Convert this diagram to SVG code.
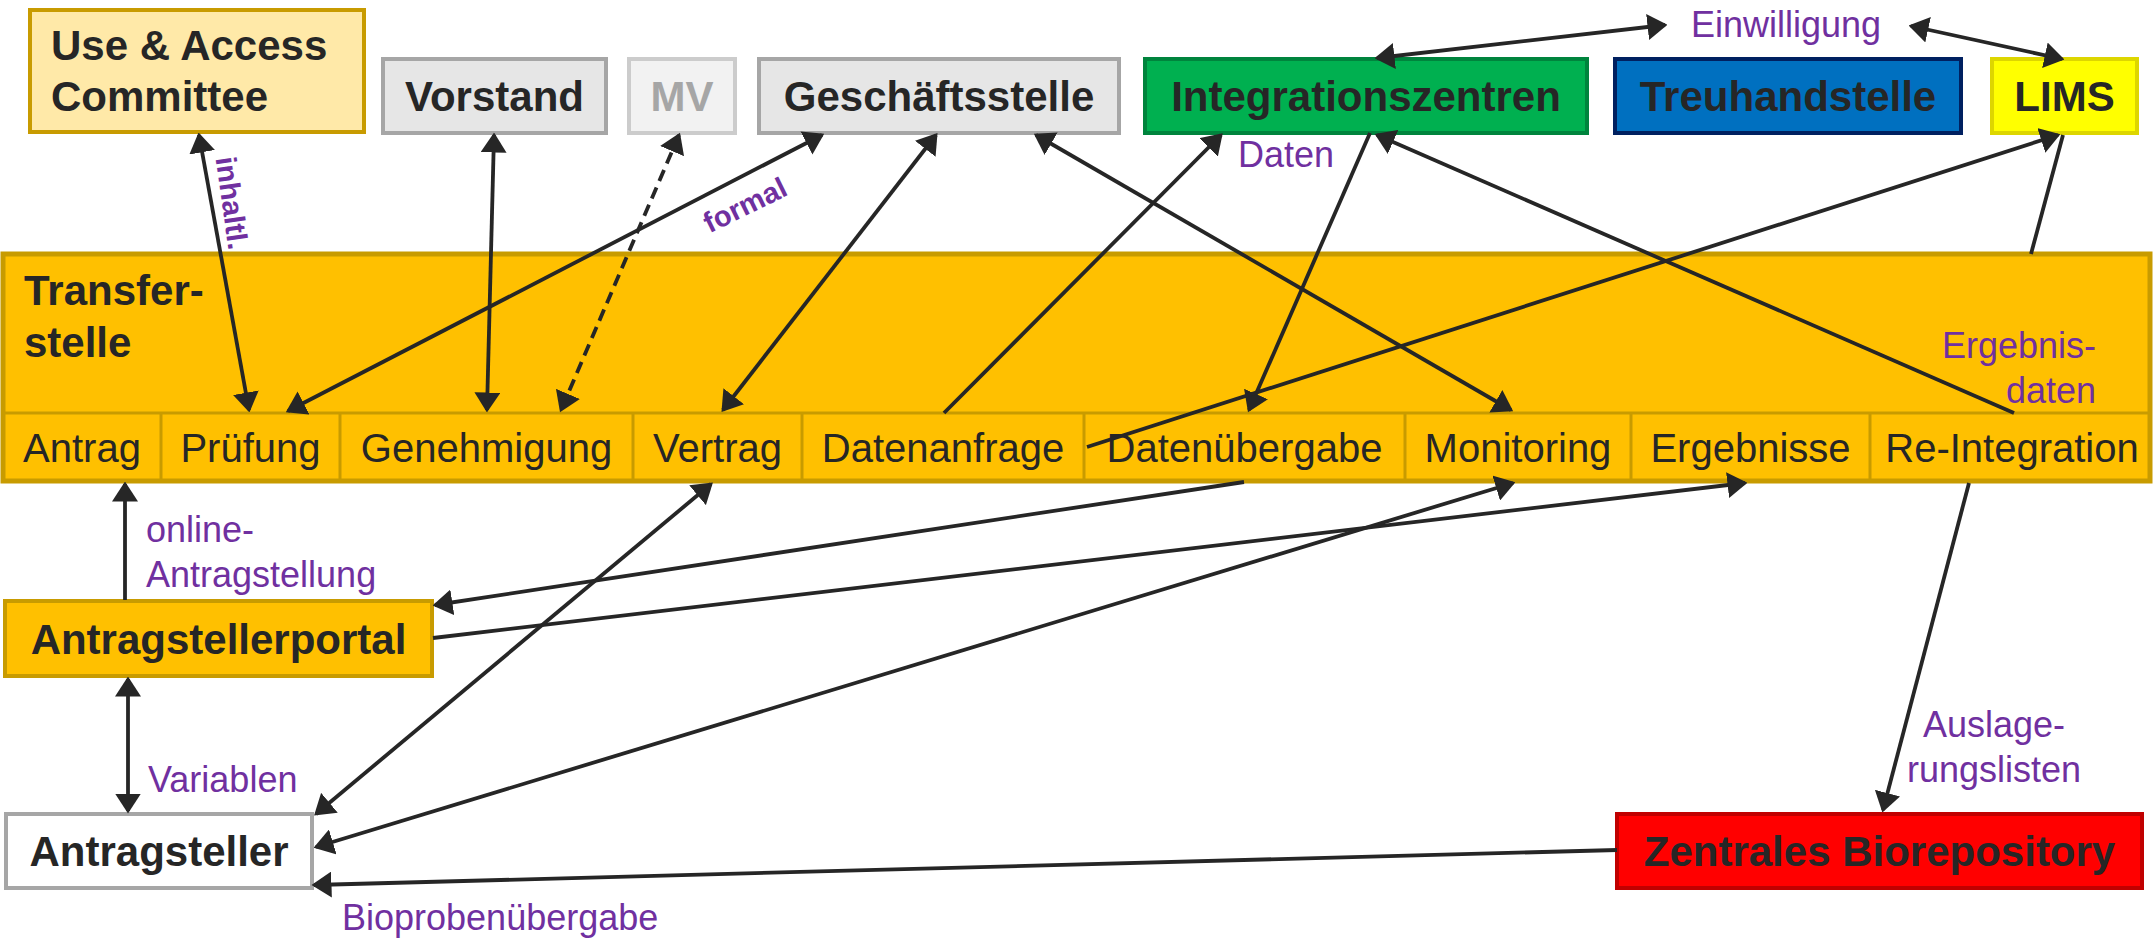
<svg xmlns="http://www.w3.org/2000/svg" width="2153" height="940" viewBox="0 0 2153 940">
<style>
.t{font-family:"Liberation Sans",Arial,sans-serif;fill:#262626}
.b{font-weight:bold;font-size:42px}
.c{font-size:40px}
.p{font-family:"Liberation Sans",Arial,sans-serif;fill:#7030A0;font-size:36px}
.pb{font-family:"Liberation Sans",Arial,sans-serif;fill:#7030A0;font-size:29px;font-weight:bold}
.ln{stroke:#262626;stroke-width:3.8;fill:none}
.cell{fill:none;stroke:#C89B00;stroke-width:3}
</style>
<defs>
<marker id="ah" viewBox="0 0 20 26" refX="17.5" refY="13" markerWidth="20" markerHeight="26" orient="auto-start-reverse" markerUnits="userSpaceOnUse"><path d="M0,0 L20,13 L0,26 z" fill="#262626"/></marker>
</defs>
<rect width="2153" height="940" fill="#ffffff"/>

<g id="committee">
<rect x="30" y="10" width="334" height="122" fill="#FFE9A8" stroke="#C89B00" stroke-width="4"/>
<text class="t b" x="51" y="60">Use &amp; Access</text>
<text class="t b" x="51" y="111">Committee</text>
</g>
<g id="vorstand">
<rect x="383" y="59" width="223" height="74" fill="#E6E6E6" stroke="#A6A6A6" stroke-width="4"/>
<text class="t b" x="494.5" y="111" text-anchor="middle">Vorstand</text>
</g>
<g id="mv">
<rect x="629" y="59" width="106" height="74" fill="#F2F2F2" stroke="#CCCCCC" stroke-width="4"/>
<text class="t b" x="682" y="111" text-anchor="middle" style="fill:#A6A6A6">MV</text>
</g>
<g id="geschaeftsstelle">
<rect x="759" y="59" width="360" height="74" fill="#E6E6E6" stroke="#A6A6A6" stroke-width="4"/>
<text class="t b" x="939" y="111" text-anchor="middle">Geschäftsstelle</text>
</g>
<g id="integrationszentren">
<rect x="1145" y="59" width="442" height="74" fill="#00B050" stroke="#00843D" stroke-width="4"/>
<text class="t b" x="1366" y="111" text-anchor="middle">Integrationszentren</text>
</g>
<g id="treuhandstelle">
<rect x="1615" y="59" width="346" height="74" fill="#0070C0" stroke="#002060" stroke-width="4"/>
<text class="t b" x="1788" y="111" text-anchor="middle">Treuhandstelle</text>
</g>
<g id="lims">
<rect x="1992" y="59" width="145" height="74" fill="#FFFF00" stroke="#DDD600" stroke-width="4"/>
<text class="t b" x="2064.5" y="111" text-anchor="middle">LIMS</text>
</g>

<g id="transferstelle">
<rect x="3" y="254" width="2147" height="227" fill="#FFC000" stroke="#C89B00" stroke-width="5"/>
<text class="t b" x="24" y="305">Transfer-</text>
<text class="t b" x="24" y="357">stelle</text>
<line class="cell" x1="3" y1="413" x2="2150" y2="413"/>
<line class="cell" x1="161" y1="413" x2="161" y2="481"/>
<line class="cell" x1="340" y1="413" x2="340" y2="481"/>
<line class="cell" x1="633" y1="413" x2="633" y2="481"/>
<line class="cell" x1="802" y1="413" x2="802" y2="481"/>
<line class="cell" x1="1084" y1="413" x2="1084" y2="481"/>
<line class="cell" x1="1405" y1="413" x2="1405" y2="481"/>
<line class="cell" x1="1631" y1="413" x2="1631" y2="481"/>
<line class="cell" x1="1870" y1="413" x2="1870" y2="481"/>
<text class="t c" x="82" y="462" text-anchor="middle">Antrag</text>
<text class="t c" x="250.5" y="462" text-anchor="middle">Prüfung</text>
<text class="t c" x="486.5" y="462" text-anchor="middle">Genehmigung</text>
<text class="t c" x="717.5" y="462" text-anchor="middle">Vertrag</text>
<text class="t c" x="943" y="462" text-anchor="middle">Datenanfrage</text>
<text class="t c" x="1244.5" y="462" text-anchor="middle">Datenübergabe</text>
<text class="t c" x="1518" y="462" text-anchor="middle">Monitoring</text>
<text class="t c" x="1750.5" y="462" text-anchor="middle">Ergebnisse</text>
<text class="t c" x="2012" y="462" text-anchor="middle">Re-Integration</text>
</g>

<g id="antragstellerportal">
<rect x="5" y="601" width="427" height="75" fill="#FFC000" stroke="#C89B00" stroke-width="4"/>
<text class="t b" x="218.5" y="654" text-anchor="middle">Antragstellerportal</text>
</g>
<g id="antragsteller">
<rect x="6" y="814" width="306" height="74" fill="#FFFFFF" stroke="#A6A6A6" stroke-width="4"/>
<text class="t b" x="159" y="866" text-anchor="middle">Antragsteller</text>
</g>
<g id="biorepository">
<rect x="1617" y="814" width="525" height="74" fill="#FF0000" stroke="#C00000" stroke-width="4"/>
<text class="t b" x="1879.5" y="866" text-anchor="middle">Zentrales Biorepository</text>
</g>

<g id="connectors">
<line class="ln" x1="199" y1="135" x2="249" y2="410" marker-start="url(#ah)" marker-end="url(#ah)"/>
<line class="ln" x1="494" y1="135" x2="487" y2="410" marker-start="url(#ah)" marker-end="url(#ah)"/>
<line class="ln" x1="679" y1="135" x2="561" y2="410" stroke-dasharray="12 7" marker-start="url(#ah)" marker-end="url(#ah)"/>
<line class="ln" x1="822" y1="135" x2="288" y2="411" marker-start="url(#ah)" marker-end="url(#ah)"/>
<line class="ln" x1="936" y1="135" x2="723" y2="410" marker-start="url(#ah)" marker-end="url(#ah)"/>
<line class="ln" x1="1036" y1="135" x2="1511" y2="410" marker-start="url(#ah)" marker-end="url(#ah)"/>
<line class="ln" x1="944" y1="413" x2="1221" y2="135" marker-end="url(#ah)"/>
<line class="ln" x1="1370" y1="133" x2="1249" y2="410" marker-end="url(#ah)"/>
<line class="ln" x1="2014" y1="413" x2="1377" y2="135" marker-end="url(#ah)"/>
<line class="ln" x1="1087" y1="447" x2="2058" y2="135" marker-end="url(#ah)"/>
<line class="ln" x1="2031" y1="254" x2="2063" y2="135"/>
<line class="ln" x1="1377" y1="58" x2="1665" y2="25" marker-start="url(#ah)" marker-end="url(#ah)"/>
<line class="ln" x1="1911" y1="26" x2="2062" y2="59" marker-start="url(#ah)" marker-end="url(#ah)"/>
<line class="ln" x1="125" y1="600" x2="125" y2="484" marker-end="url(#ah)"/>
<line class="ln" x1="128" y1="679" x2="128" y2="811" marker-start="url(#ah)" marker-end="url(#ah)"/>
<line class="ln" x1="1244" y1="482" x2="435" y2="605" marker-end="url(#ah)"/>
<line class="ln" x1="433" y1="638" x2="1745" y2="483" marker-end="url(#ah)"/>
<line class="ln" x1="711" y1="484" x2="316" y2="814" marker-start="url(#ah)" marker-end="url(#ah)"/>
<line class="ln" x1="1513" y1="483" x2="316" y2="847" marker-start="url(#ah)" marker-end="url(#ah)"/>
<line class="ln" x1="1617" y1="850" x2="314" y2="885" marker-end="url(#ah)"/>
<line class="ln" x1="1969" y1="483" x2="1883" y2="810" marker-end="url(#ah)"/>
<text class="pb" transform="translate(232,203) rotate(82)" x="0" y="10" text-anchor="middle">inhaltl.</text>
<text class="pb" transform="translate(745,205) rotate(-26)" x="0" y="10" text-anchor="middle">formal</text>
<text class="p" x="1238" y="167">Daten</text>
<text class="p" x="1691" y="37">Einwilligung</text>
<text class="p" x="2096" y="358" text-anchor="end">Ergebnis-</text>
<text class="p" x="2096" y="403" text-anchor="end">daten</text>
<text class="p" x="146" y="542">online-</text>
<text class="p" x="146" y="587">Antragstellung</text>
<text class="p" x="148" y="792">Variablen</text>
<text class="p" x="342" y="930">Bioprobenübergabe</text>
<text class="p" x="1994" y="737" text-anchor="middle">Auslage-</text>
<text class="p" x="1994" y="782" text-anchor="middle">rungslisten</text>
</g>
</svg>
